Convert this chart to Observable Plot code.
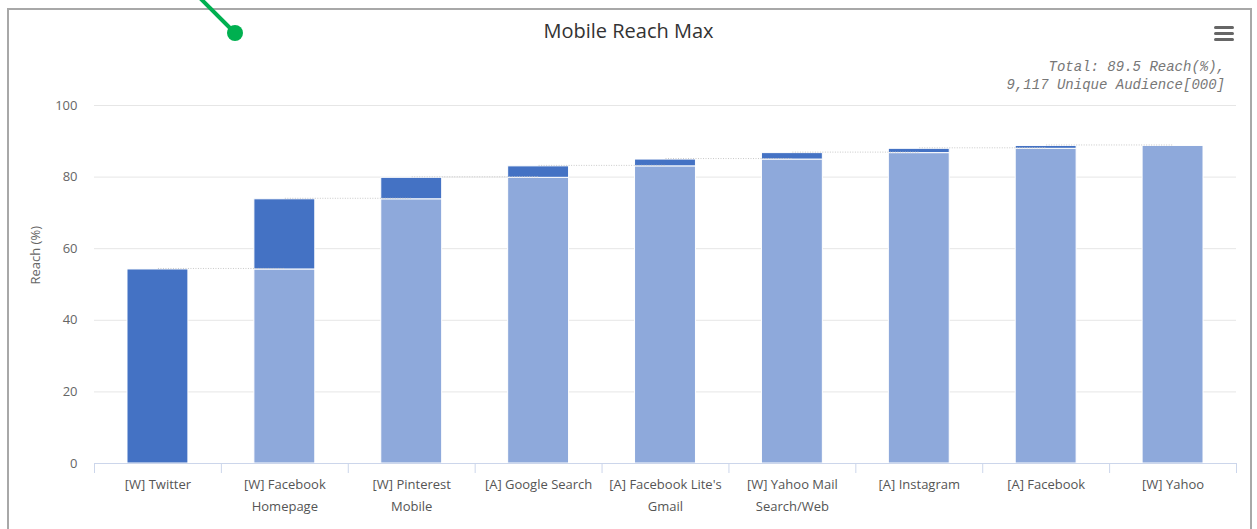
<!DOCTYPE html>
<html>
<head>
<meta charset="utf-8">
<script src="https://cdn.jsdelivr.net/npm/d3@7"></script>
<script src="https://cdn.jsdelivr.net/npm/@observablehq/plot@0.6"></script>
<style>
  html, body { margin: 0; padding: 0; background: #fff; }
  body { width: 1257px; height: 529px; position: relative; overflow: hidden; font-family: "Open Sans", "Noto Sans", sans-serif; }
  #frame { position: absolute; left: 7px; top: 8px; width: 1245px; height: 600px; border: 2px solid #a8a8a8; box-sizing: border-box; }
  #title { position: absolute; left: 0; width: 1257px; top: 17px; text-align: center; font-size: 20px; color: #333; }
  #subtitle { position: absolute; right: 32px; top: 58px; text-align: right; font-family: "Liberation Mono", "DejaVu Sans Mono", monospace; font-style: italic; font-size: 14px; line-height: 18px; color: #777; }
  #menu { position: absolute; left: 1214px; top: 26px; width: 20px; }
  #menu div { height: 3px; background: #666; border-radius: 1.5px; margin-bottom: 3.2px; }
  #chart { position: absolute; left: 0; top: 0; }
  #annot { position: absolute; left: 0; top: 0; pointer-events: none; }
</style>
</head>
<body>
<div id="frame"></div>
<div id="title">Mobile Reach Max</div>
<div id="subtitle">Total: 89.5 Reach(%),<br>9,117 Unique Audience[000]</div>
<div id="menu"><div></div><div></div><div></div></div>
<div id="chart"></div>
<svg id="annot" width="1257" height="529">
  <line x1="198" y1="-4" x2="235" y2="33" stroke="#00B050" stroke-width="4" stroke-linecap="round"/>
  <circle cx="235" cy="33" r="8" fill="#00B050"/>
</svg>
<script>
// ---- data ----
const categories = [
  "[W] Twitter",
  "[W] Facebook\nHomepage",
  "[W] Pinterest\nMobile",
  "[A] Google Search",
  "[A] Facebook Lite's\nGmail",
  "[W] Yahoo Mail\nSearch/Web",
  "[A] Instagram",
  "[A] Facebook",
  "[W] Yahoo"
];
// cumulative reach (%) after adding each site
const reach = [54.2, 73.8, 79.8, 83.0, 84.9, 86.7, 87.9, 88.7, 88.8];
const yTicks = [0, 20, 40, 60, 80, 100];

// ---- derived tables ----
const rows = categories.map((c, i) => ({cat: c, base: i ? reach[i - 1] : 0, top: reach[i]}));
const links = categories.slice(0, -1).map((c, i) => ({from: c, to: categories[i + 1], v: reach[i]}));

const W = 1257, H = 529;
const mL = 94, mR = 21;
const step = (W - mL - mR) / categories.length;

const chart = Plot.plot({
  width: W,
  height: H,
  marginTop: 105,
  marginBottom: 66,
  marginLeft: mL,
  marginRight: mR,
  style: {fontFamily: "'Open Sans', 'Noto Sans', sans-serif", background: "transparent", overflow: "visible"},
  x: {domain: categories, paddingInner: 0.52, paddingOuter: 0.26, align: 0.5, round: false},
  y: {domain: [0, 100]},
  marks: [
    Plot.ruleY(yTicks.filter(d => d > 0), {y: d => d, stroke: "#e6e6e6", strokeWidth: 1}),
    Plot.axisY({ticks: yTicks, tickSize: 0, tickPadding: 17, fontSize: 13, fill: "#666", label: null}),
    Plot.text(["Reach (%)"], {frameAnchor: "left", rotate: -90, dx: -59, fontSize: 13, fill: "#666"}),
    Plot.barY(rows.filter(d => d.base > 0), {x: "cat", y1: 0, y2: "base", fill: "#8EA9DB", stroke: "white", strokeWidth: 1}),
    Plot.barY(rows, {x: "cat", y1: "base", y2: "top", fill: "#4472C4", stroke: "white", strokeWidth: 1}),
    Plot.link(links, {x1: "from", x2: "to", y1: "v", y2: "v", dy: -1, stroke: "#c8c8c8", strokeWidth: 1, strokeDasharray: "1,1.5"}),
    Plot.ruleY([0], {stroke: "#ccd6eb", strokeWidth: 1}),
    Plot.ruleX(categories, {x: d => d, dx: -step / 2, y1: 0, y2: -2.8, stroke: "#ccd6eb"}),
    Plot.ruleX(categories.slice(-1), {x: d => d, dx: step / 2, y1: 0, y2: -2.8, stroke: "#ccd6eb"}),
    Plot.axisX({tickSize: 0, tickPadding: 10, fontSize: 13, fill: "#555", lineHeight: 1.7, label: null})
  ]
});
document.getElementById("chart").appendChild(chart);
</script>
</body>
</html>
